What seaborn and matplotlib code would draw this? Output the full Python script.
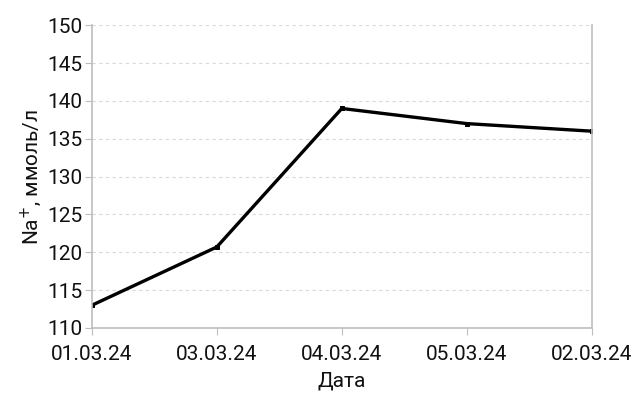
import seaborn as sns
import matplotlib.pyplot as plt
import pandas as pd

# Data ##
#########
dates = ["01.03.24", "03.03.24", "04.03.24", "05.03.24", "02.03.24"]
na = [113.0, 120.7, 139.0, 137.0, 136.0]

df = pd.DataFrame({"date": dates, "na": na})

sns.set_style("white")
plt.rcParams['font.family'] = ['Roboto', 'DejaVu Sans']
plt.rcParams['text.color'] = "#111111"
plt.rcParams['axes.labelcolor'] = "#111111"
plt.rcParams['xtick.labelcolor'] = "#111111"
plt.rcParams['ytick.labelcolor'] = "#111111"

fig, ax = plt.subplots(figsize=(6.33, 4.0), dpi=100)
sns.lineplot(x="date", y="na", data=df, ax=ax, color="black",
             linewidth=2.4, marker="s", markersize=3.5,
             markeredgecolor="black", sort=False)

ax.set_ylim(110, 150)
ax.set_yticks(range(110, 151, 5))
ax.set_xlim(0, len(dates) - 1)
ax.yaxis.grid(True, linestyle=(0, (3, 3)), color="#d9d9d9", linewidth=0.8)
ax.set_axisbelow(True)

for side in ["left", "bottom", "right"]:
    ax.spines[side].set_color("#bdbdbd")
    ax.spines[side].set_linewidth(1.2)
ax.spines["top"].set_visible(False)
ax.tick_params(axis="both", which="both", length=5, color="#bdbdbd",
               labelsize=15, direction="out", left=True, bottom=True)
ax.tick_params(axis="x", pad=7)
ax.tick_params(axis="y", pad=2)

ax.set_xlabel("Дата", fontsize=15, labelpad=6)
ax.set_ylabel("Na$^{+}$, ммоль/л", fontsize=15, labelpad=2)

plt.subplots_adjust(left=0.145, right=0.935, top=0.937, bottom=0.18)
plt.savefig("out.png", dpi=100)
